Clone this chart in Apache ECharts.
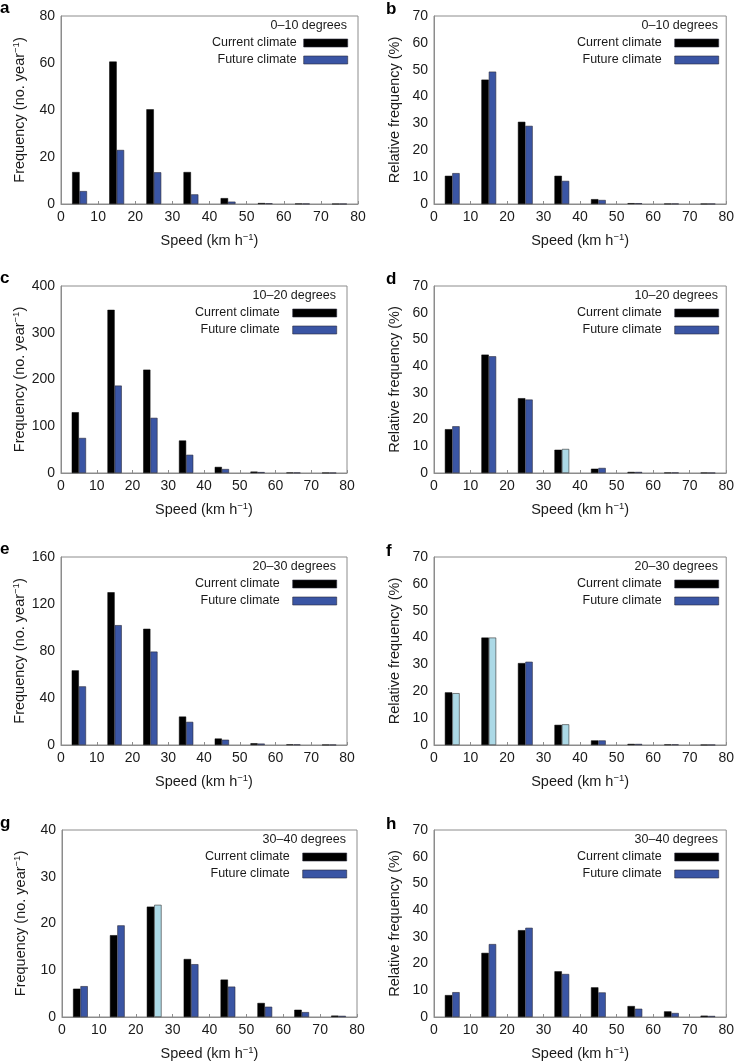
<!DOCTYPE html>
<html>
<head>
<meta charset="utf-8">
<script src="https://cdn.jsdelivr.net/npm/echarts@6/dist/echarts.min.js"></script>
<style>
html,body{margin:0;padding:0;background:#fff;}
#c{width:737px;height:1063px;}
</style>
</head>
<body>
<div id="c"></div>
<script>
// ---- data ----
const speedBins = [5, 15, 25, 35, 45, 55, 65, 75];
const xTickMax = 80;

const curA = [13.6, 60.6, 40.3, 13.6, 2.5, 0.4, 0.15, 0.05];
const futA = [5.5, 23.0, 13.5, 4.1, 1.0, 0.3, 0.1, 0.03];
const curB = [10.5, 46.3, 30.6, 10.5, 1.8, 0.3, 0.1, 0.05];
const futB = [11.5, 49.3, 29.1, 8.6, 1.5, 0.3, 0.1, 0.05];
const curC = [130, 349, 221, 69.5, 13, 3, 1, 0.5];
const futC = [75, 187, 118, 39, 8.5, 2, 0.8, 0.3];
const curD = [16.4, 44.3, 28.0, 8.7, 1.6, 0.4, 0.15, 0.1];
const futD = [17.5, 43.7, 27.5, 9.0, 1.9, 0.4, 0.15, 0.05];
const curE = [63.5, 130, 98.9, 24.2, 5.5, 1.5, 0.5, 0.2];
const futE = [49.9, 102, 79.5, 19.7, 4.5, 1.2, 0.4, 0.15];
const curF = [19.6, 40.0, 30.5, 7.5, 1.7, 0.4, 0.2, 0.05];
const futF = [19.3, 40.0, 31.0, 7.7, 1.7, 0.4, 0.2, 0.05];
const curG = [6.05, 17.5, 23.6, 12.4, 8.0, 3.0, 1.55, 0.3];
const futG = [6.6, 19.6, 24.0, 11.3, 6.5, 2.2, 1.05, 0.25];
const curH = [8.2, 24.0, 32.5, 17.1, 11.1, 4.1, 2.1, 0.5];
const futH = [9.3, 27.3, 33.4, 16.1, 9.2, 3.1, 1.5, 0.4];

// future bins drawn in light blue (per panel)
const lightA = [], lightB = [], lightC = [];
const lightD = [35];
const lightE = [];
const lightF = [5, 15, 35];
const lightG = [25];
const lightH = [];

const degA = '0–10 degrees', degC = '10–20 degrees', degE = '20–30 degrees', degG = '30–40 degrees';
const seriesNames = ['Current climate', 'Future climate'];
const freqName = '{a|Frequency (no. year}{s|−1}{a|)}';
const relName = 'Relative frequency (%)';
const xName = '{a|Speed (km h}{s|−1}{a|)}';

// ---- layout ----
const W = 737;
const FONT = '"Liberation Sans", Arial, Helvetica, sans-serif';
const panels = [
  {L:'a', deg:degA, cur:curA, fut:futA, light:lightA, max:80, int:20, yName:freqName, g:{left:61, top:16, width:297, height:188}, lx:0, ly:0, tg:7},
  {L:'b', deg:degA, cur:curB, fut:futB, light:lightB, max:70, int:10, yName:relName, g:{left:434, top:16, width:295, height:188}, lx:386, ly:1, tg:13},
  {L:'c', deg:degC, cur:curC, fut:futC, light:lightC, max:400, int:100, yName:freqName, g:{left:61, top:286, width:286, height:187}, lx:0, ly:270, tg:13},
  {L:'d', deg:degC, cur:curD, fut:futD, light:lightD, max:70, int:10, yName:relName, g:{left:434, top:286, width:295, height:187}, lx:386, ly:271, tg:13},
  {L:'e', deg:degE, cur:curE, fut:futE, light:lightE, max:160, int:40, yName:freqName, g:{left:61, top:557, width:286, height:188}, lx:0, ly:541, tg:13},
  {L:'f', deg:degE, cur:curF, fut:futF, light:lightF, max:70, int:10, yName:relName, g:{left:434, top:557, width:295, height:188}, lx:386, ly:543, tg:13},
  {L:'g', deg:degG, cur:curG, fut:futG, light:lightG, max:40, int:10, yName:freqName, g:{left:62, top:830, width:295, height:187}, lx:0, ly:815, tg:13},
  {L:'h', deg:degG, cur:curH, fut:futH, light:lightH, max:70, int:10, yName:relName, g:{left:434, top:830, width:295, height:187}, lx:386, ly:816, tg:13}
];

const GRAY = '#8c8c8c';
const BLUE = '#3a55a4';
const LIGHT = '#acd9e6';
const TXT = '#1a1a1a';
const richName = {
  a: {fontSize: 14.5, fontFamily: FONT, color: TXT, lineHeight: 18},
  s: {fontSize: 9.5, fontFamily: FONT, color: TXT, verticalAlign: 'top', lineHeight: 10}
};

const grid = [], xAxis = [], yAxis = [], series = [], legend = [], title = [], graphic = [];
panels.forEach((p, i) => {
  grid.push(Object.assign({show: true, borderColor: GRAY, borderWidth: 1, containLabel: false}, p.g));
  const plotRight = p.g.left + p.g.width;
  xAxis.push({
    type: 'value', gridIndex: i, min: 0, max: xTickMax, interval: 10,
    axisLine: {show: true, lineStyle: {color: GRAY}},
    axisTick: {show: true, inside: true, length: 3, lineStyle: {color: GRAY}},
    splitLine: {show: false},
    axisLabel: {fontSize: 14, fontFamily: FONT, color: TXT, margin: 6},
    name: xName, nameLocation: 'middle', nameGap: 28,
    nameTextStyle: {rich: richName}
  });
  yAxis.push({
    type: 'value', gridIndex: i, min: 0, max: p.max, interval: p.int,
    axisLine: {show: true, lineStyle: {color: GRAY}},
    axisTick: {show: false},
    splitLine: {show: false},
    axisLabel: {fontSize: 14, fontFamily: FONT, color: TXT, margin: 6},
    name: p.yName, nameLocation: 'middle', nameGap: 32, nameRotate: 90,
    nameTextStyle: p.yName === relName ? {fontSize: 14.5, fontFamily: FONT, color: TXT} : {rich: richName}
  });
  const bw = p.g.width / xTickMax * 2;
  series.push({
    type: 'bar', name: seriesNames[0], xAxisIndex: i, yAxisIndex: i,
    barWidth: bw, barGap: '0%',
    itemStyle: {color: '#000', borderColor: '#000', borderWidth: 0.5},
    data: speedBins.map((x, k) => [x, p.cur[k]]),
    animation: false
  });
  series.push({
    type: 'bar', name: seriesNames[1], xAxisIndex: i, yAxisIndex: i,
    barWidth: bw, barGap: '0%',
    itemStyle: {color: BLUE, borderColor: '#2a2a3a', borderWidth: 0.6},
    data: speedBins.map((x, k) => (p.light.indexOf(x) >= 0)
      ? {value: [x, p.fut[k]], itemStyle: {color: LIGHT, borderColor: '#333'}}
      : [x, p.fut[k]]),
    animation: false
  });
  legend.push({
    data: seriesNames, orient: 'vertical', align: 'right',
    right: W - plotRight + 10, top: p.g.top + 20, padding: 0,
    itemWidth: 44, itemHeight: 8, itemGap: 3,
    textStyle: {fontSize: 12.5, fontFamily: FONT, color: TXT, lineHeight: 14, padding: [0, p.tg - 5, 0, 0]},
    selectedMode: false, icon: 'rect',
    itemStyle: {borderColor: '#2a2a3a', borderWidth: 0.6}
  });
  title.push({
    text: p.deg, right: W - plotRight + 11, top: p.g.top + 3, padding: 0,
    textStyle: {fontSize: 12.5, fontFamily: FONT, color: TXT, fontWeight: 'normal'}
  });
  graphic.push({
    type: 'text', left: p.lx, top: p.ly,
    style: {text: p.L, font: 'bold 17px ' + FONT, fill: '#000'}
  });
});

const chart = echarts.init(document.getElementById('c'));
chart.setOption({
  animation: false,
  backgroundColor: '#fff',
  title, legend, grid, xAxis, yAxis, series, graphic
});
</script>
</body>
</html>
